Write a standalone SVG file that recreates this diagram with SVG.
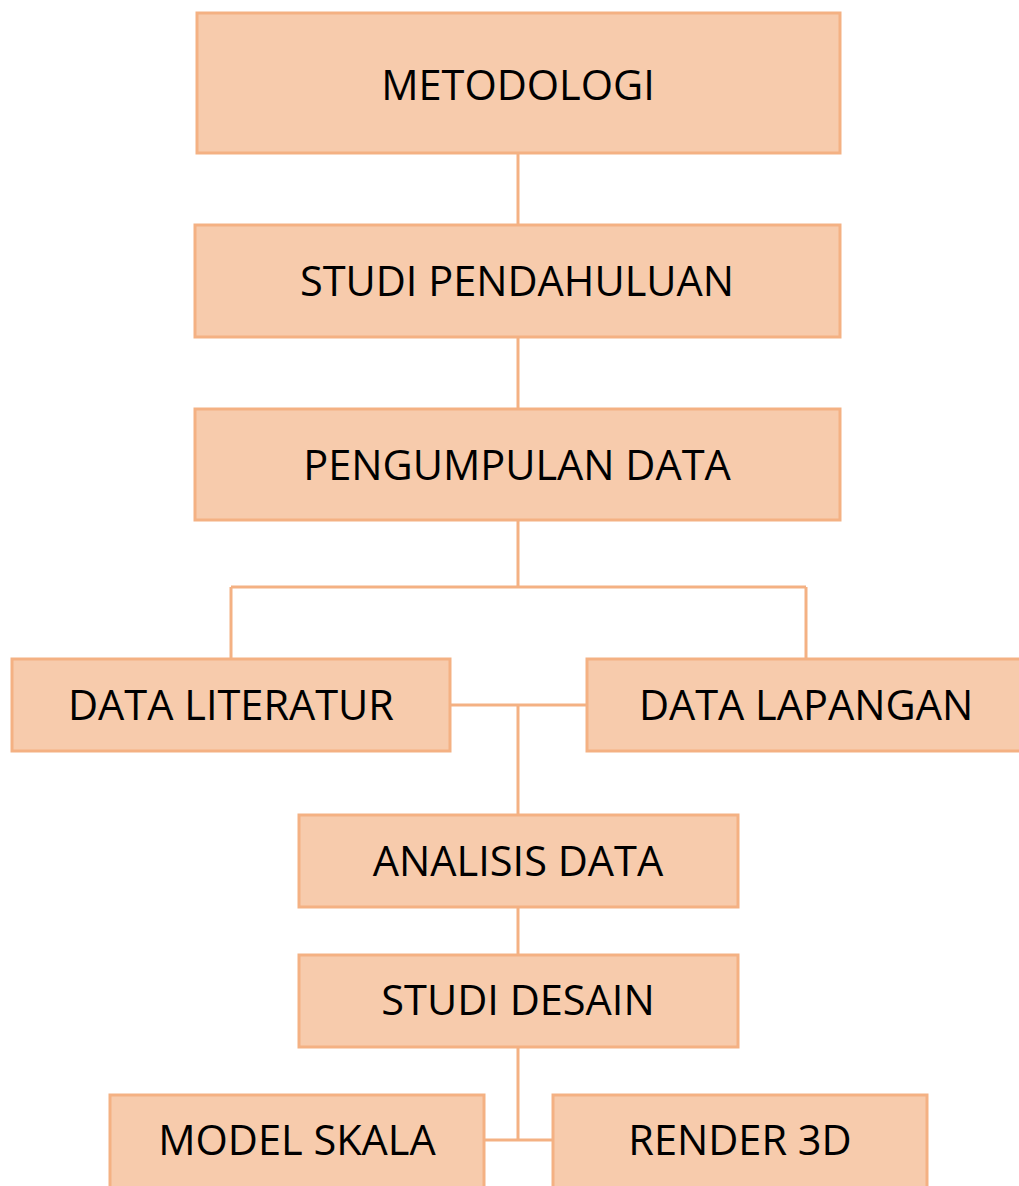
<svg xmlns="http://www.w3.org/2000/svg" width="1019" height="1186" viewBox="0 0 1019 1186">
<style>
.box{fill:#F7CBAC;stroke:#F4B183;stroke-width:3}
.lbl{font-family:"Open Sans","Noto Sans",sans-serif;font-size:41.5px;fill:#000;text-anchor:middle}
.con{fill:none;stroke:#F4B183;stroke-width:3}
</style>
<rect width="1019" height="1186" fill="#fff"/>
<g id="connectors">
<path class="con" d="M518 153V225"/>
<path class="con" d="M518 337V409"/>
<path class="con" d="M518 520V587M231 587H806M231 587V659M806 587V659"/>
<path class="con" d="M450 705H587M518 705V815"/>
<path class="con" d="M518 907V955"/>
<path class="con" d="M518 1047V1140M484 1140H553"/>
</g>
<g id="metodologi"><rect class="box" x="197" y="13" width="643" height="140"/><text class="lbl" x="518" y="100">METODOLOGI</text></g>
<g id="studi-pendahuluan"><rect class="box" x="195" y="225" width="645" height="112"/><text class="lbl" x="517" y="296">STUDI PENDAHULUAN</text></g>
<g id="pengumpulan-data"><rect class="box" x="195" y="409" width="645" height="111"/><text class="lbl" x="517" y="480">PENGUMPULAN DATA</text></g>
<g id="data-literatur"><rect class="box" x="12" y="659" width="438" height="92"/><text class="lbl" x="231" y="720">DATA LITERATUR</text></g>
<g id="data-lapangan"><rect class="box" x="587" y="659" width="440" height="92"/><text class="lbl" x="806" y="720">DATA LAPANGAN</text></g>
<g id="analisis-data"><rect class="box" x="299" y="815" width="439" height="92"/><text class="lbl" x="518" y="876">ANALISIS DATA</text></g>
<g id="studi-desain"><rect class="box" x="299" y="955" width="439" height="92"/><text class="lbl" x="518" y="1015">STUDI DESAIN</text></g>
<g id="model-skala"><rect class="box" x="110" y="1095" width="374" height="100"/><text class="lbl" x="297" y="1155">MODEL SKALA</text></g>
<g id="render-3d"><rect class="box" x="553" y="1095" width="374" height="100"/><text class="lbl" x="740" y="1155">RENDER 3D</text></g>
</svg>
